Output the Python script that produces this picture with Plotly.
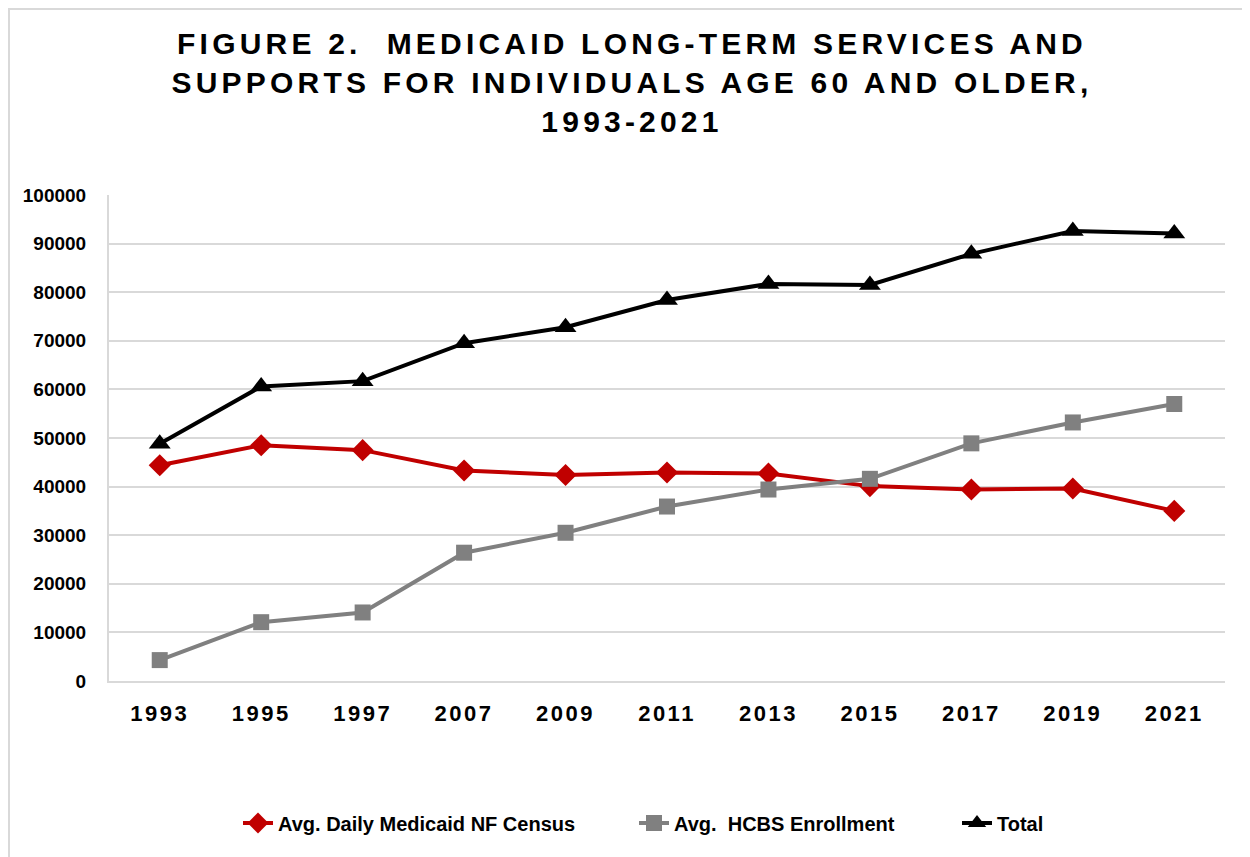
import plotly.graph_objects as go

years = ["1993", "1995", "1997", "2007", "2009", "2011", "2013", "2015", "2017", "2019", "2021"]
nf_census = [44400, 48500, 47500, 43300, 42400, 42900, 42700, 40100, 39400, 39600, 35000]
hcbs_enrollment = [4300, 12100, 14100, 26400, 30500, 35900, 39400, 41600, 48900, 53200, 57000]
total = [48800, 60600, 61700, 69500, 72800, 78400, 81700, 81500, 87900, 92600, 92100]
y_ticks = [0, 10000, 20000, 30000, 40000, 50000, 60000, 70000, 80000, 90000, 100000]

FONT = "Liberation Sans, Arial, sans-serif"

fig = go.Figure()
fig.add_trace(go.Scatter(
    x=years, y=nf_census, mode="lines+markers", name="Avg. Daily Medicaid NF Census",
    line=dict(color="#C00000", width=4), legendwidth=351,
    marker=dict(symbol="diamond", size=17, color="#C00000")))
fig.add_trace(go.Scatter(
    x=years, y=hcbs_enrollment, mode="lines+markers", name="Avg.&nbsp; HCBS Enrollment",
    line=dict(color="#808080", width=4), legendwidth=278,
    marker=dict(symbol="square", size=16, color="#808080")))
fig.add_trace(go.Scatter(
    x=years, y=total, mode="lines+markers", name="Total",
    line=dict(color="#000000", width=4),
    marker=dict(symbol="triangle-up", size=19, color="#000000")))

# page offset of the figure inside the browser window (body margin)
OFF = 8
W, H = 1250, 857
L, R, T, B = 101, 33, 187, 184
pw, ph = W - L - R, H - T - B

def px_x(s):
    return (s - OFF - L) / pw

def px_y(s):
    return (H - B - (s - OFF)) / ph

fig.add_shape(type="rect", xref="paper", yref="paper",
              x0=px_x(9), x1=px_x(1270), y0=px_y(880), y1=px_y(9),
              line=dict(color="#D9D9D9", width=2), fillcolor="rgba(0,0,0,0)", layer="below")

title_text = ('<span style="letter-spacing:4.2px">FIGURE 2.&nbsp; MEDICAID LONG-TERM SERVICES AND<br>'
              'SUPPORTS FOR INDIVIDUALS AGE 60 AND OLDER,<br>1993-2021</span>')

fig.update_layout(
    width=W, height=H,
    margin=dict(l=L, r=R, t=T, b=B, autoexpand=False),
    paper_bgcolor="white", plot_bgcolor="white",
    title=dict(text=title_text, x=px_x(632), xref="paper", xanchor="center",
               y=1 - 46 / H, yref="container", yanchor="top",
               font=dict(family=FONT, size=30, color="black", weight="bold")),
    showlegend=True,
    legend=dict(orientation="h", x=px_x(238), xref="paper", xanchor="left",
                y=px_y(823), yanchor="middle",
                font=dict(family=FONT, size=20, color="black", weight="bold"),
                itemwidth=30, tracegroupgap=0),
    xaxis=dict(type="category", range=[-0.5, 10.5], showgrid=False,
               showline=True, linecolor="#D9D9D9", linewidth=2,
               tickmode="array", tickvals=years,
               ticktext=['<span style="letter-spacing:2.5px">%s</span>' % y for y in years],
               ticks="", ticklabelstandoff=12, tickangle=0,
               tickfont=dict(family=FONT, size=22, color="black", weight="bold")),
    yaxis=dict(range=[0, 100000], tickvals=y_ticks, tickformat="d",
               showgrid=True, gridcolor="#D9D9D9", gridwidth=2,
               showline=True, linecolor="#D9D9D9", linewidth=2,
               zeroline=False, ticks="", ticklabelstandoff=17,
               tickfont=dict(family=FONT, size=19, color="black", weight="bold")),
)

fig.write_html("out.html")
